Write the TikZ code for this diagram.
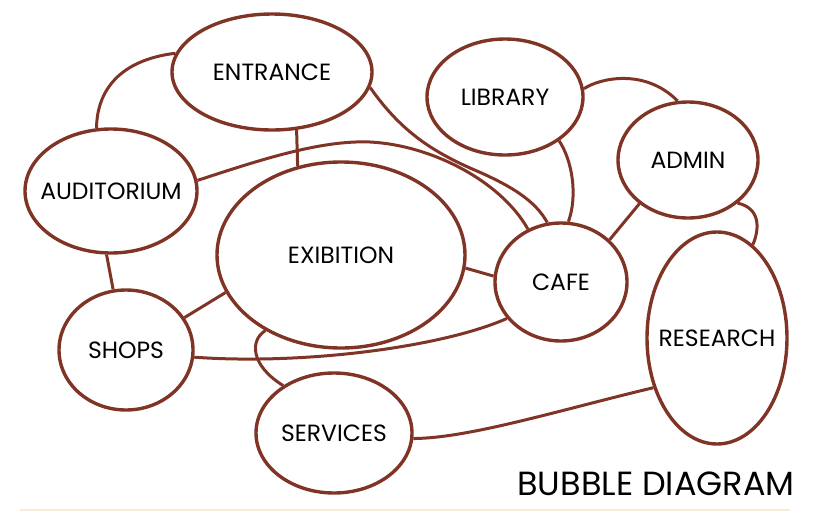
\documentclass[tikz,border=0pt]{standalone}
\usepackage{fontspec}
\setmainfont{Poppins}
\usetikzlibrary{shapes.geometric}
\definecolor{bubblered}{RGB}{128,52,38}
\definecolor{edgepeach}{RGB}{251,234,214}
\tikzset{
  bubble/.style={ellipse, draw=bubblered, line width=3.4pt, inner sep=0pt,
    label={[font=\fontsize{23.5}{28}\selectfont]center:#1}},
  link/.style={draw=bubblered, line width=3pt}
}

\begin{document}
\begin{tikzpicture}[x=1pt,y=-1pt]
  \useasboundingbox (0,0) rectangle (815,512);
  \draw[edgepeach, line width=1.5pt] (20,510) -- (790,510);

  \node[bubble=ENTRANCE, minimum width=200pt, minimum height=116pt] (ent) at (272,72) {};
  \node[bubble=AUDITORIUM, minimum width=172pt, minimum height=124pt] (aud) at (111,191) {};
  \node[bubble=EXIBITION, minimum width=248pt, minimum height=186pt] (exh) at (341,255) {};
  \node[bubble=LIBRARY, minimum width=156pt, minimum height=116pt] (lib) at (505,97) {};
  \node[bubble=ADMIN, minimum width=140pt, minimum height=116pt] (adm) at (688,160) {};
  \node[bubble=CAFE, minimum width=132pt, minimum height=118pt] (cafe) at (561,282) {};
  \node[bubble=RESEARCH, minimum width=140pt, minimum height=212pt] (res) at (717,338) {};
  \node[bubble=SHOPS, minimum width=134pt, minimum height=120pt] (shops) at (126,350) {};
  \node[bubble=SERVICES, minimum width=156pt, minimum height=120pt] (serv) at (334,433) {};

  \node[font=\fontsize{33.5}{38}\selectfont] (title) at (656,484) {BUBBLE DIAGRAM};

  \begin{scope}[link]
  \draw (aud.103) .. controls (97,90) and (120,60) .. (ent.169);
  \draw (ent.-67) -- (exh.116);
  \draw (aud.7) .. controls (260,160) and (320,140) .. (370,142)
    .. controls (430,145) and (500,180) .. (cafe.122);
  \draw (ent.-9) .. controls (400,130) and (430,150) .. (470,168)
    .. controls (510,185) and (535,200) .. (cafe.103);
  \draw (lib.-39) .. controls (572,160) and (578,195) .. (cafe.83);
  \draw (lib.6) .. controls (600,78) and (645,68) .. (adm.100);
  \draw (adm.222) -- (cafe.41);
  \draw (adm.-41) .. controls (760,208) and (760,228) .. (res.69);
  \draw (exh.-6) -- (cafe.175);
  \draw (shops.-6) .. controls (300,365) and (440,348) .. (cafe.214);
  \draw (shops.102) -- (aud.-94);
  \draw (shops.29) -- (exh.198);
  \draw (exh.225) .. controls (250,340) and (250,365) .. (serv.137);
  \draw (serv.-4) .. controls (470,438) and (560,410) .. (res.218);
  \end{scope}
\end{tikzpicture}
\end{document}
